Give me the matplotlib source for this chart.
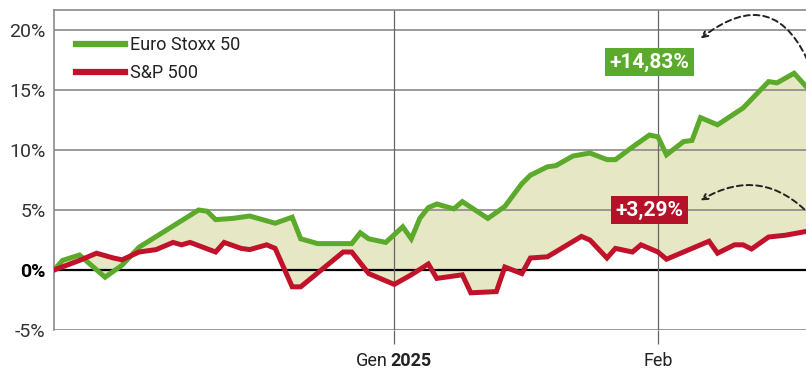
import pandas as pd
import numpy as np
import matplotlib
matplotlib.use('Agg')
import matplotlib.pyplot as plt
import matplotlib.dates as mdates

plt.rcParams['font.family'] = ['Liberation Sans Narrow', 'Roboto', 'DejaVu Sans']

# Euro Stoxx 50, % change since start
euro_dates = ['2024-11-22', '2024-11-23', '2024-11-25', '2024-11-28', '2024-11-30',
              '2024-12-02', '2024-12-09', '2024-12-10', '2024-12-11', '2024-12-13',
              '2024-12-15', '2024-12-18', '2024-12-20', '2024-12-21', '2024-12-23',
              '2024-12-27', '2024-12-28', '2024-12-29', '2024-12-31', '2025-01-02',
              '2025-01-03', '2025-01-04', '2025-01-05', '2025-01-06', '2025-01-08',
              '2025-01-09', '2025-01-12', '2025-01-14', '2025-01-16', '2025-01-17',
              '2025-01-19', '2025-01-20', '2025-01-22', '2025-01-24', '2025-01-26',
              '2025-01-27', '2025-01-29', '2025-01-31', '2025-02-01', '2025-02-02',
              '2025-02-04', '2025-02-05', '2025-02-06', '2025-02-08', '2025-02-11',
              '2025-02-14', '2025-02-15', '2025-02-17', '2025-02-19']
euro_vals = [0.0, 0.8, 1.25, -0.6, 0.4,
             1.9, 5.0, 4.9, 4.2, 4.3,
             4.5, 3.9, 4.4, 2.6, 2.2,
             2.2, 3.1, 2.6, 2.3, 3.6,
             2.6, 4.3, 5.2, 5.5, 5.1,
             5.7, 4.3, 5.3, 7.2, 7.9,
             8.6, 8.7, 9.5, 9.75, 9.2,
             9.2, 10.25, 11.25, 11.1, 9.6,
             10.7, 10.8, 12.7, 12.1, 13.5,
             15.7, 15.6, 16.4, 14.83]

# S&P 500, % change since start
sp_dates = ['2024-11-22', '2024-11-25', '2024-11-27', '2024-11-29', '2024-11-30',
            '2024-12-02', '2024-12-04', '2024-12-06', '2024-12-07', '2024-12-08',
            '2024-12-11', '2024-12-12', '2024-12-14', '2024-12-15', '2024-12-17',
            '2024-12-18', '2024-12-20', '2024-12-21', '2024-12-26', '2024-12-27',
            '2024-12-29', '2025-01-01', '2025-01-03', '2025-01-05', '2025-01-06',
            '2025-01-09', '2025-01-10', '2025-01-13', '2025-01-14', '2025-01-16',
            '2025-01-17', '2025-01-19', '2025-01-23', '2025-01-24', '2025-01-26',
            '2025-01-27', '2025-01-29', '2025-01-30', '2025-02-01', '2025-02-02',
            '2025-02-04', '2025-02-07', '2025-02-08', '2025-02-10', '2025-02-11',
            '2025-02-12', '2025-02-14', '2025-02-16', '2025-02-19']
sp_vals = [0.0, 0.8, 1.4, 1.0, 0.85,
           1.5, 1.7, 2.3, 2.1, 2.3,
           1.5, 2.3, 1.8, 1.7, 2.1,
           1.8, -1.4, -1.4, 1.5, 1.5,
           -0.3, -1.2, -0.4, 0.5, -0.7,
           -0.4, -1.9, -1.8, 0.25, -0.3,
           1.0, 1.1, 2.8, 2.5, 1.0,
           1.8, 1.5, 2.1, 1.5, 0.9,
           1.5, 2.4, 1.4, 2.1, 2.1,
           1.75, 2.75, 2.9, 3.29]

y_ticks = [-5, 0, 5, 10, 15, 20]
euro_label = '+14,83%'
sp_label = '+3,29%'

GREEN = '#5caa2c'
RED = '#c0132b'
FILL = '#e6e7c4'
GRID = '#8a8a8a'

ex = pd.to_datetime(euro_dates)
sx = pd.to_datetime(sp_dates)
jan1 = pd.Timestamp('2025-01-01')
feb1 = pd.Timestamp('2025-02-01')

fig = plt.figure(figsize=(8.06, 3.70), dpi=100)
ax = fig.add_axes([54 / 806, 40 / 370, 752 / 806, 320 / 370])

# fill between the two series
poly_x = np.concatenate([mdates.date2num(ex), mdates.date2num(sx)[::-1]])
poly_y = np.concatenate([euro_vals, sp_vals[::-1]])
ax.fill(poly_x, poly_y, color=FILL, lw=0, zorder=1)

for t in y_ticks:
    if t == 0:
        ax.axhline(t, color='black', lw=1.6, zorder=2)
    else:
        ax.axhline(t, color=GRID, lw=1.2, zorder=2)

for d in [jan1, feb1]:
    ax.axvline(d, color='#666666', lw=0.9, zorder=2)

ax.plot(ex, euro_vals, color=GREEN, lw=3.6, solid_joinstyle='miter', zorder=4, label='Euro Stoxx 50')
ax.plot(sx, sp_vals, color=RED, lw=3.6, solid_joinstyle='miter', zorder=5, label='S&P 500')

ax.set_xlim(ex[0], ex[0] + pd.Timedelta(days=88.4))
ax.set_ylim(-5, 21.67)

ax.set_yticks(y_ticks)
ax.set_yticklabels([f'{t}%' for t in y_ticks])
ax.tick_params(axis='y', length=0, pad=6, labelsize=14, labelcolor='#333333')
for lab in ax.get_yticklabels():
    if lab.get_text() == '0%':
        lab.set_fontweight('bold')
        lab.set_color('black')

ax.set_xticks([jan1, feb1])
ax.set_xticklabels(['', ''])
ax.tick_params(axis='x', length=10, width=0.9, color='#666666', direction='out')

tick_kw = dict(xycoords=('data', 'axes fraction'), textcoords='offset points',
               va='center', fontsize=13, color='#222222', annotation_clip=False)
ax.annotate('Gen', xy=(jan1, 0), xytext=(-5, -22), ha='right', **tick_kw)
ax.annotate('2025', xy=(jan1, 0), xytext=(-3, -22), ha='left', fontweight='bold', **tick_kw)
ax.annotate('Feb', xy=(feb1, 0), xytext=(0, -22), ha='center', **tick_kw)

for s in ['right', 'bottom']:
    ax.spines[s].set_visible(False)
ax.spines['left'].set_color(GRID)
ax.spines['top'].set_color(GRID)
ax.spines['left'].set_linewidth(1.2)
ax.spines['top'].set_linewidth(1.2)

leg = ax.legend(loc='upper left', bbox_to_anchor=(0.02, 0.94), frameon=False,
                fontsize=13, handlelength=2.7, handletextpad=0.3, labelspacing=0.55,
                borderaxespad=0)
for line in leg.get_lines():
    line.set_linewidth(4.5)
for txt in leg.get_texts():
    txt.set_color('#222222')

lab_date = pd.Timestamp('2025-01-31')
ax.text(lab_date, 17.33, euro_label, ha='center', va='center', fontsize=15,
        fontweight='bold', color='white', zorder=6,
        bbox=dict(boxstyle='square,pad=0.2', fc=GREEN, ec='none'))
ax.text(lab_date, 5.0, sp_label, ha='center', va='center', fontsize=15,
        fontweight='bold', color='white', zorder=6,
        bbox=dict(boxstyle='square,pad=0.2', fc='#b51229', ec='none'))

end_date = pd.Timestamp('2025-02-19')
head_date = pd.Timestamp('2025-02-06')
ax.annotate('', xy=(head_date, 19.3), xytext=(end_date, 16.8), annotation_clip=False,
            arrowprops=dict(arrowstyle='->', ls=(0, (3, 2)), lw=1.4, color='#222222',
                            connectionstyle='arc3,rad=0.66', shrinkA=0, shrinkB=0))
ax.annotate('', xy=(head_date, 5.8), xytext=(end_date, 4.5), annotation_clip=False,
            arrowprops=dict(arrowstyle='->', ls=(0, (3, 2)), lw=1.4, color='#222222',
                            connectionstyle='arc3,rad=0.4', shrinkA=0, shrinkB=0))

fig.savefig('out.png', dpi=100)
